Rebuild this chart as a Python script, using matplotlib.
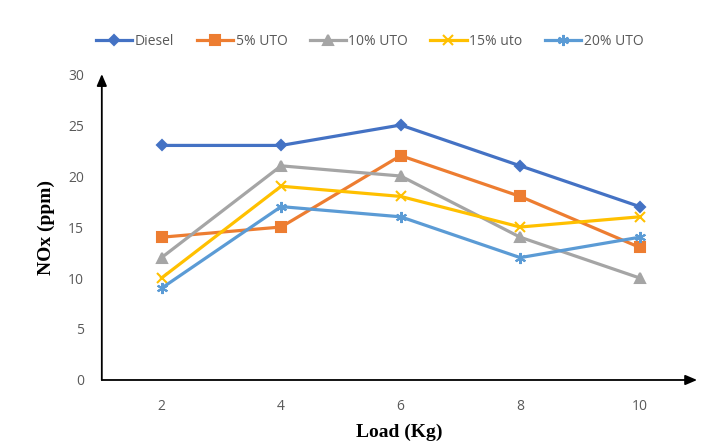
import matplotlib.pyplot as plt

# Data
loads = ["2", "4", "6", "8", "10"]
diesel = [23, 23, 25, 21, 17]
uto_5 = [14, 15, 22, 18, 13]
uto_10 = [12, 21, 20, 14, 10]
uto_15 = [10, 19, 18, 15, 16]
uto_20 = [9, 17, 16, 12, 14]
y_ticks = [0, 5, 10, 15, 20, 25, 30]

series = [
    ("Diesel", diesel, "#4472C4", "D", 5),
    ("5% UTO", uto_5, "#ED7D31", "s", 6.5),
    ("10% UTO", uto_10, "#A5A5A5", "^", 6.5),
    ("15% uto", uto_15, "#FFC000", "x", 7.5),
    ("20% UTO", uto_20, "#5B9BD5", (6, 2, 0), 8),
]

fig = plt.figure(figsize=(7.07, 4.46), dpi=100)
ax = fig.add_axes([0.144, 0.148, 0.842, 0.686])

x = list(range(1, len(loads) + 1))
for name, vals, color, marker, ms in series:
    ax.plot(x, vals, color=color, lw=2.3, marker=marker, markersize=ms,
            markeredgewidth=1.5, label=name)

ax.set_xlim(0.5, 5.48)
ax.set_ylim(0, 30)
ax.set_xticks(x)
ax.set_xticklabels(loads)
ax.set_yticks(y_ticks)
ax.tick_params(length=0, colors="#595959", labelsize=10)
ax.tick_params(axis="x", pad=14)
ax.tick_params(axis="y", pad=13)
for lab in ax.get_xticklabels() + ax.get_yticklabels():
    lab.set_family("Open Sans")

for s in ax.spines.values():
    s.set_visible(False)

# axis arrows
arrow = dict(arrowstyle="-|>,head_length=0.7,head_width=0.3", color="black", lw=1.3,
             shrinkA=0, shrinkB=0)
ax.annotate("", xy=(0, 1.0), xytext=(0, 0), xycoords="axes fraction", arrowprops=arrow)
ax.annotate("", xy=(1.0, 0), xytext=(0, 0), xycoords="axes fraction", arrowprops=arrow)

ax.set_xlabel("Load (Kg)", family="Liberation Serif", weight="bold", fontsize=14, labelpad=7)
ax.set_ylabel("NOx (ppm)", family="Liberation Serif", weight="bold", fontsize=14, labelpad=9)

leg = ax.legend(loc="lower center", bbox_to_anchor=(0.45, 1.04), ncol=5, frameon=False,
                handlelength=2.6, columnspacing=1.6, handletextpad=0.2,
                prop={"family": "Open Sans", "size": 10})
for t in leg.get_texts():
    t.set_color("#595959")

fig.savefig("out.png", dpi=100)
